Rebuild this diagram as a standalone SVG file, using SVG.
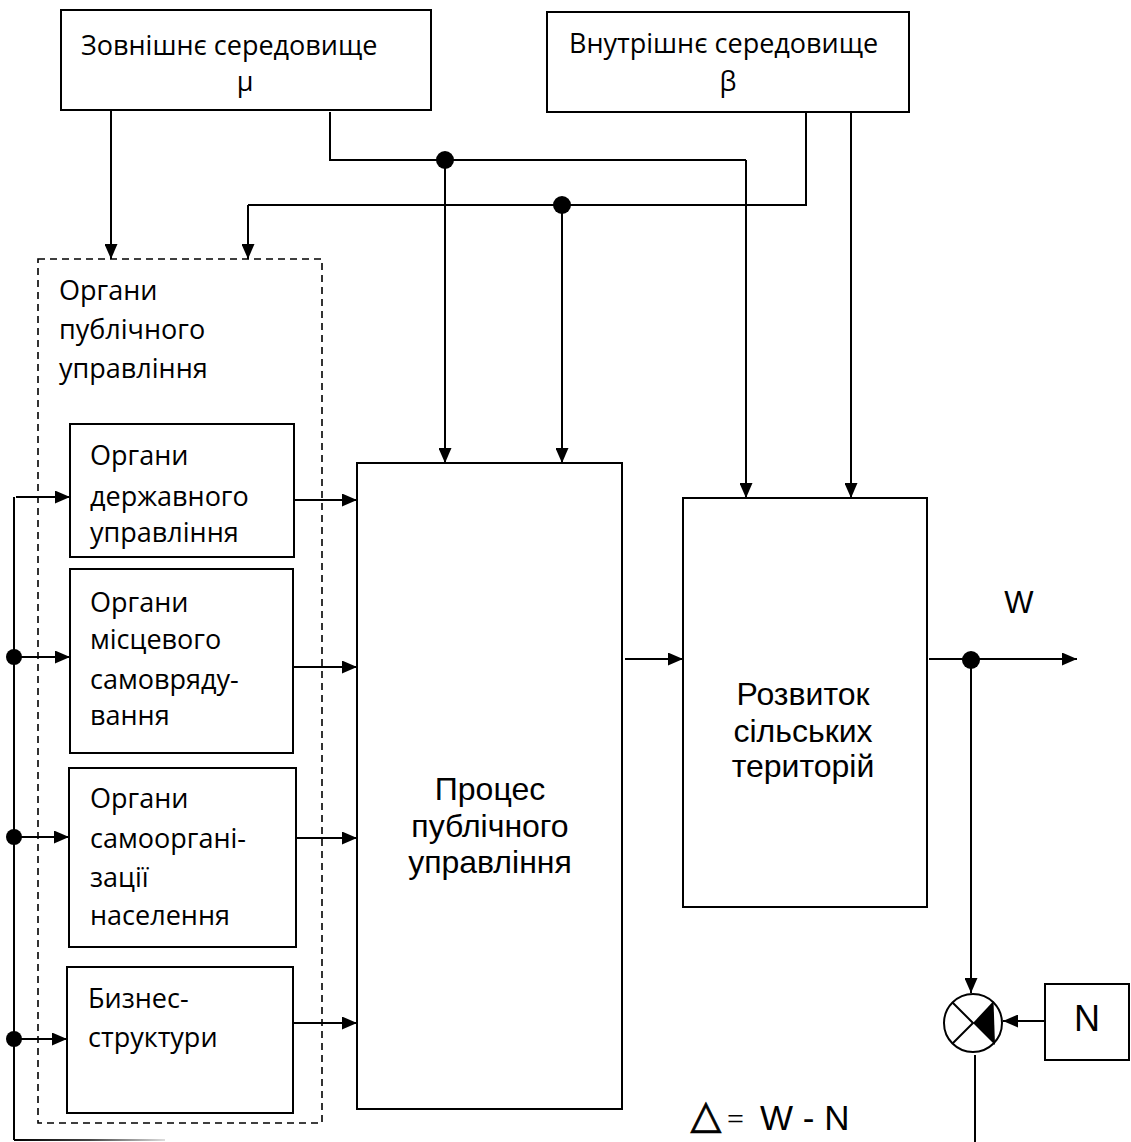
<svg xmlns="http://www.w3.org/2000/svg" width="1131" height="1142" viewBox="0 0 1131 1142">
<style>
  .box { fill: #fff; stroke: #000; stroke-width: 2; }
  .dash { fill: none; stroke: #000; stroke-width: 1.6; stroke-dasharray: 7 5; }
  .ln { fill: none; stroke: #000; stroke-width: 2; }
  .arr { fill: none; stroke: #000; stroke-width: 2; marker-end: url(#ah); }
  .dot { fill: #000; }
  .t1 { font-family: "Open Sans", "Noto Sans", sans-serif; font-size: 27px; fill: #000; }
  .t2 { font-family: "Liberation Sans", Arial, sans-serif; font-size: 32px; fill: #000; }
</style>
<defs>
  <marker id="ah" viewBox="0 0 15 13" refX="15" refY="6.5" markerWidth="15" markerHeight="13" markerUnits="userSpaceOnUse" orient="auto">
    <path d="M0,0 L15,6.5 L0,13 z" fill="#000"/>
  </marker>
  <linearGradient id="fade" gradientUnits="userSpaceOnUse" x1="14" y1="0" x2="165" y2="0">
    <stop offset="0" stop-color="#000"/>
    <stop offset="0.5" stop-color="#444"/>
    <stop offset="1" stop-color="#ddd"/>
  </linearGradient>
</defs>
<rect width="1131" height="1142" fill="#fff"/>

<g id="external">
  <rect class="box" x="61" y="10" width="370" height="100"/>
  <text class="t1" x="81" y="55">Зовнішнє середовище</text>
  <text class="t1" x="245" y="91" text-anchor="middle">μ</text>
</g>
<g id="internal">
  <rect class="box" x="547" y="12" width="362" height="100"/>
  <text class="t1" x="569" y="53">Внутрішнє середовище</text>
  <text class="t1" x="728" y="91" text-anchor="middle">β</text>
</g>

<g id="public-bodies">
  <rect class="dash" x="38" y="259" width="284" height="864"/>
  <text class="t1" x="59" y="300">Органи</text>
  <text class="t1" x="59" y="339">публічного</text>
  <text class="t1" x="59" y="378">управління</text>
</g>
<g id="state-bodies">
  <rect class="box" x="70" y="424" width="224" height="133"/>
  <text class="t1" x="90" y="465">Органи</text>
  <text class="t1" x="90" y="506">державного</text>
  <text class="t1" x="90" y="542">управління</text>
</g>
<g id="local-bodies">
  <rect class="box" x="70" y="569" width="223" height="184"/>
  <text class="t1" x="90" y="612">Органи</text>
  <text class="t1" x="90" y="649">місцевого</text>
  <text class="t1" x="90" y="689">самовряду-</text>
  <text class="t1" x="90" y="725">вання</text>
</g>
<g id="self-org-bodies">
  <rect class="box" x="69" y="768" width="227" height="179"/>
  <text class="t1" x="90" y="808">Органи</text>
  <text class="t1" x="90" y="848">самооргані-</text>
  <text class="t1" x="90" y="887">зації</text>
  <text class="t1" x="90" y="925">населення</text>
</g>
<g id="business">
  <rect class="box" x="67" y="967" width="226" height="146"/>
  <text class="t1" x="88" y="1008">Бизнес-</text>
  <text class="t1" x="88" y="1047">структури</text>
</g>

<g id="process">
  <rect class="box" x="357" y="463" width="265" height="646"/>
  <text class="t2" x="490" y="800" text-anchor="middle">Процес</text>
  <text class="t2" x="490" y="837" text-anchor="middle">публічного</text>
  <text class="t2" x="490" y="873" text-anchor="middle">управління</text>
</g>
<g id="development">
  <rect class="box" x="683" y="498" width="244" height="409"/>
  <text class="t2" x="803" y="705" text-anchor="middle">Розвиток</text>
  <text class="t2" x="803" y="742" text-anchor="middle">сільських</text>
  <text class="t2" x="803" y="777" text-anchor="middle">територій</text>
</g>

<g id="comparator">
  <circle cx="973" cy="1023" r="29" fill="#fff" stroke="#000" stroke-width="2"/>
  <path class="ln" d="M952.5,1002.5 L973,1023 L952.5,1043.5"/>
  <polygon points="973,1023 993.5,1001 995,1045" fill="#000"/>
</g>
<g id="norm">
  <rect class="box" x="1045" y="984" width="84" height="76"/>
  <text class="t2" x="1087" y="1031" text-anchor="middle" style="font-size:36px">N</text>
</g>

<g id="labels">
  <text class="t2" x="1019" y="613" text-anchor="middle" style="font-size:31px">W</text>
  <text x="706" y="1128" text-anchor="middle" stroke="#000" stroke-width="0.8" style="font-family:'DejaVu Sans',sans-serif;font-size:40px">△</text>
  <text x="727" y="1129" style="font-family:'Liberation Serif',serif;font-size:30px">=</text>
  <text x="760" y="1130" style="font-family:'Liberation Sans',sans-serif;font-size:35px">W - N</text>
</g>

<g id="connectors">
  <path class="arr" d="M111,110 V259"/>
  <path class="ln" d="M330,112 V160 H746"/>
  <path class="arr" d="M746,160 V498"/>
  <path class="arr" d="M445,160 V463"/>
  <circle class="dot" cx="445" cy="160" r="9"/>
  <path class="ln" d="M806,112 V205 H248"/>
  <path class="arr" d="M248,205 V259"/>
  <path class="arr" d="M562,205 V463"/>
  <circle class="dot" cx="562" cy="205" r="9"/>
  <path class="arr" d="M851,112 V498"/>

  <path class="arr" d="M294,500 H357"/>
  <path class="arr" d="M293,667 H357"/>
  <path class="arr" d="M296,838 H357"/>
  <path class="arr" d="M293,1023 H357"/>

  <path class="arr" d="M625,659 H683"/>
  <path class="arr" d="M929,659 H1077"/>
  <circle class="dot" cx="971" cy="660" r="9"/>
  <path class="arr" d="M971,660 V993"/>
  <path class="arr" d="M1045,1021 H1003"/>
  <path class="ln" d="M975,1055 V1142"/>

  <path class="ln" d="M14,497 V1140"/>
  <path d="M14,1140 H165" stroke="url(#fade)" stroke-width="2" fill="none"/>
  <path class="arr" d="M16,497 H70"/>
  <path class="arr" d="M14,657 H70"/>
  <circle class="dot" cx="14" cy="657" r="8"/>
  <path class="arr" d="M14,837 H69"/>
  <circle class="dot" cx="14" cy="837" r="8"/>
  <path class="arr" d="M14,1039 H67"/>
  <circle class="dot" cx="14" cy="1039" r="8"/>
</g>
</svg>
